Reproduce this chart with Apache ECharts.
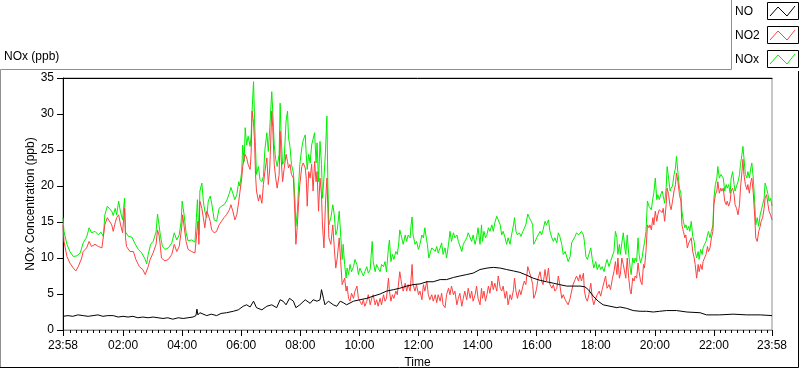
<!DOCTYPE html>
<html><head><meta charset="utf-8">
<script src="https://cdn.jsdelivr.net/npm/echarts@6/dist/echarts.min.js"></script>
<style>html,body{margin:0;padding:0;background:#fff}#c{width:800px;height:369px}</style>
</head><body><div id="c"></div>
<script>
// time values are minutes after the first sample (23:58)
const seriesNames = ['NO', 'NO2', 'NOx'];
const xTickMinutes = [0,122,242,362,482,602,722,842,962,1082,1202,1322,1440];
const xTickLabels = ['23:58','02:00','04:00','06:00','08:00','10:00','12:00','14:00','16:00','18:00','20:00','22:00','23:58'];
const yTicks = [0,5,10,15,20,25,30,35];

const noData = [[0,1.9],[10,2.0],[20,1.9],[30,2.1],[41,2.0],[51,1.9],[61,2.0],[71,2.1],[81,1.9],[91,2.0],[102,2.0],[112,1.8],[122,1.9],[132,1.8],[142,1.9],[152,1.7],[162,1.8],[173,1.7],[183,1.8],[193,1.7],[203,1.6],[213,1.7],[223,1.5],[234,1.7],[244,1.6],[254,1.7],[264,1.8],[270,2.0],[272,2.9],[274,2.1],[278,2.4],[292,2.0],[301,2.2],[312,2.0],[321,2.3],[332,2.4],[346,2.6],[356,2.8],[366,3.3],[373,3.5],[380,3.2],[387,4.0],[393,3.1],[404,2.8],[414,3.3],[424,3.5],[434,3.1],[441,4.2],[447,4.0],[453,3.5],[460,4.4],[468,4.0],[473,3.1],[481,3.5],[492,4.2],[502,3.7],[508,4.2],[516,4.0],[522,4.2],[525,5.6],[529,4.4],[532,3.5],[539,4.0],[549,3.5],[556,3.3],[563,4.0],[569,3.8],[576,3.5],[590,4.0],[603,4.2],[617,4.4],[630,4.7],[644,5.0],[657,5.4],[671,5.6],[684,5.8],[698,6.1],[711,6.3],[725,6.4],[739,6.7],[752,6.7],[766,7.0],[779,7.0],[793,7.3],[806,7.5],[820,7.7],[833,7.9],[847,8.4],[861,8.6],[874,8.7],[888,8.6],[901,8.4],[915,8.2],[928,8.0],[942,7.6],[955,7.2],[969,6.9],[982,6.7],[996,6.5],[1009,6.3],[1023,6.1],[1036,6.1],[1050,6.1],[1060,6.0],[1067,5.6],[1077,4.7],[1087,4.0],[1097,3.5],[1111,3.3],[1125,3.1],[1131,3.2],[1145,3.0],[1158,2.7],[1172,2.6],[1185,2.6],[1199,2.5],[1212,2.6],[1226,2.7],[1246,2.7],[1267,2.5],[1294,2.4],[1307,2.1],[1334,2.1],[1361,2.2],[1389,2.1],[1416,2.1],[1440,2.0]];

const no2Data = [[0,14.6],[2,12.3],[8,10.2],[14,9.3],[21,8.6],[26,8.2],[31,8.8],[38,10.0],[41,10.9],[48,11.4],[53,12.3],[58,11.6],[65,11.9],[72,11.6],[79,11.4],[82,11.6],[85,14.6],[90,15.6],[94,15.8],[99,14.6],[102,13.7],[106,14.9],[109,15.6],[113,16.0],[117,14.6],[121,13.5],[125,16.9],[127,12.8],[129,11.6],[136,10.9],[143,10.9],[148,9.8],[155,8.8],[162,8.4],[167,7.7],[170,7.5],[173,8.8],[177,9.8],[183,10.7],[189,11.9],[192,13.9],[195,13.2],[197,12.1],[200,10.0],[207,9.6],[214,9.8],[221,10.5],[226,11.9],[231,10.9],[236,11.6],[241,14.2],[243,16.0],[246,14.4],[250,12.3],[254,11.2],[261,10.9],[268,10.7],[272,13.7],[274,15.1],[276,11.9],
[278,17.9],[282,16.9],[285,15.6],[288,14.2],[292,16.5],[295,16.0],[299,15.1],[302,13.9],[307,13.5],[312,13.7],[317,14.6],[322,15.1],[327,15.6],[332,16.0],[338,16.7],[341,17.4],[345,16.5],[349,15.3],[353,16.0],[357,17.9],[359,19.0],[363,21.1],[365,22.7],[368,23.9],[370,24.4],[373,23.9],[376,23.0],[380,22.3],[382,24.4],[384,30.4],[387,28.8],[389,26.2],[391,21.6],[393,19.3],[397,17.9],[400,18.8],[404,17.6],[407,20.2],[410,22.0],[414,23.9],[417,20.2],[420,22.5],[424,30.4],[426,28.1],[429,23.0],[432,21.1],[435,19.7],[439,21.6],[441,27.6],[443,23.9],[446,20.6],[449,22.3],[453,24.4],[456,23.4],[458,22.5],[461,23.0],[464,21.6],[468,21.1],[471,16.0],[473,11.9],[476,14.6],[479,18.3],[481,20.2],[485,22.7],[488,23.2],[492,22.5],[494,21.1],[496,17.2],[499,22.0],[502,21.1],[505,23.0],[508,19.3],[511,23.4],[514,20.6],[516,22.0],[519,16.5],[522,21.1],[525,18.8],[527,14.6],[530,11.4],[533,17.4],[536,21.1],[538,16.9],[540,12.8],[544,11.9],[548,14.6],[551,11.4],[554,8.6],[557,10.0],[561,12.8],[564,9.5],[567,6.3],
[569,6.3],[572,7.2],[575,5.4],[577,6.1],[580,4.4],[583,4.0],[586,5.1],[590,4.4],[593,5.4],[597,6.1],[600,4.4],[603,4.0],[607,3.5],[610,4.2],[613,3.3],[617,4.0],[620,4.9],[624,3.5],[627,4.4],[630,4.9],[634,3.5],[637,4.2],[640,3.3],[644,4.4],[647,3.5],[651,4.9],[654,4.0],[657,4.4],[661,7.2],[663,5.4],[666,4.0],[669,4.9],[672,4.4],[676,5.4],[679,4.9],[682,6.8],[684,8.1],[688,6.3],[691,5.4],[695,6.5],[698,5.4],[701,6.3],[705,5.4],[707,7.2],[709,9.1],[711,6.3],[715,5.4],[718,6.3],[722,4.9],[725,5.4],[729,4.2],[732,6.3],[735,5.4],[739,6.8],[742,4.9],[745,4.2],[749,4.9],[752,4.0],[756,4.9],[759,3.8],[762,4.9],[766,4.0],[769,5.1],[772,3.5],[776,3.1],[779,4.9],[783,5.8],[786,4.9],[789,6.1],[793,4.9],[796,5.4],[800,3.5],[803,4.4],[806,5.1],[810,3.3],[813,4.4],[816,5.4],[820,4.2],[823,5.8],[827,4.4],[830,5.4],[833,4.0],[837,4.9],[840,6.1],[843,4.4],
[847,3.5],[850,5.8],[852,4.4],[855,5.4],[858,4.0],[861,4.9],[864,6.1],[867,5.1],[871,6.8],[874,5.6],[877,6.5],[881,5.4],[884,7.5],[888,5.8],[891,5.4],[894,6.1],[898,4.4],[901,5.4],[904,3.5],[908,4.9],[911,4.2],[915,5.6],[917,7.2],[920,5.4],[923,4.4],[927,5.6],[930,4.9],[934,6.1],[937,6.8],[940,6.3],[944,8.8],[947,8.1],[951,7.2],[954,6.3],[956,4.4],[959,4.9],[962,5.8],[965,7.2],[969,8.1],[972,6.8],[975,6.3],[979,8.4],[982,6.8],[986,8.6],[989,6.3],[993,5.8],[996,6.3],[999,5.4],[1003,5.8],[1006,7.5],[1009,6.3],[1013,4.4],[1016,4.9],[1020,4.2],[1023,4.0],[1026,3.5],[1030,4.4],[1033,5.4],[1036,6.3],[1040,7.0],[1043,7.5],[1047,6.8],[1050,7.7],[1053,6.8],[1057,7.9],[1059,5.4],[1062,4.4],[1065,4.0],[1068,4.9],[1072,6.5],[1075,4.4],[1078,3.5],[1082,4.4],[1085,4.9],[1089,5.4],[1092,4.7],[1095,5.6],[1099,5.4],[1102,7.5],[1105,5.8],[1109,6.3],[1112,5.6],[1116,7.2],[1119,8.1],[1122,9.5],[1125,7.7],[1127,10.0],[1130,7.2],
[1132,7.7],[1135,10.0],[1138,9.1],[1141,9.1],[1143,7.2],[1146,10.0],[1149,7.2],[1152,5.4],[1154,5.0],[1157,7.2],[1160,6.8],[1162,7.5],[1165,7.2],[1168,9.3],[1170,8.1],[1173,6.8],[1176,6.3],[1179,9.1],[1181,8.6],[1184,10.9],[1187,14.6],[1190,14.2],[1192,14.6],[1195,13.9],[1198,15.6],[1200,14.6],[1203,16.5],[1206,15.1],[1208,16.0],[1211,16.7],[1214,16.5],[1217,16.3],[1219,16.9],[1222,15.1],[1225,17.4],[1227,19.7],[1230,18.8],[1233,17.2],[1235,16.7],[1238,17.9],[1241,19.3],[1244,20.2],[1246,21.8],[1249,20.6],[1252,18.8],[1255,17.9],[1257,14.6],[1260,13.7],[1263,12.8],[1265,13.2],[1268,11.4],[1271,12.1],[1273,11.9],[1276,12.8],[1279,10.9],[1282,10.0],[1284,9.1],[1287,7.2],[1290,9.1],[1292,8.1],[1295,9.1],[1298,8.4],[1300,9.5],[1303,10.0],[1306,10.5],[1309,11.6],[1311,10.9],[1314,11.4],[1317,12.8],[1320,13.7],[1322,17.4],[1325,18.8],[1328,19.3],[1330,20.6],[1333,19.0],[1336,19.7],[1338,19.3],[1341,19.7],[1344,17.9],[1347,17.4],[1349,17.9],[1352,17.2],[1355,17.9],[1357,19.3],[1360,19.7],[1363,18.8],[1365,17.4],[1368,16.9],[1371,16.0],[1374,17.4],[1376,19.7],[1379,22.0],[1381,23.7],[1383,21.6],[1386,20.2],[1389,19.5],[1391,20.2],[1394,19.0],[1397,20.6],[1399,21.1],[1402,19.0],[1405,15.6],[1407,12.8],[1410,12.3],[1413,13.7],[1416,14.4],[1418,15.1],[1421,15.6],[1424,16.9],[1426,18.3],[1429,18.8],[1432,17.4],[1434,16.5],[1437,16.0],[1440,15.3]];

const noxData = [[0,15.6],[2,13.7],[8,11.9],[14,10.9],[21,10.2],[28,10.3],[35,10.7],[41,12.1],[48,12.9],[53,14.2],[58,13.5],[65,13.7],[72,13.2],[77,13.6],[82,13.0],[85,16.0],[90,17.2],[94,17.4],[99,16.5],[102,15.9],[106,16.9],[109,16.0],[113,17.9],[117,16.3],[121,15.3],[125,18.3],[127,13.6],[133,13.0],[140,12.9],[146,12.0],[153,11.2],[160,10.7],[167,9.8],[170,9.2],[173,10.5],[178,11.9],[183,12.3],[189,13.6],[192,16.1],[195,14.6],[198,13.0],[202,11.6],[207,11.2],[214,11.4],[221,12.1],[226,13.5],[231,12.5],[236,13.2],[240,15.1],[242,17.9],[246,16.0],[250,13.5],[254,12.4],[261,12.5],[268,12.2],[271,15.6],[273,18.1],[276,13.2],
[278,19.3],[282,20.4],[285,17.9],[288,16.5],[292,15.6],[295,17.9],[299,18.6],[302,17.6],[307,15.3],[312,15.1],[317,16.9],[322,17.2],[327,17.4],[332,17.9],[338,19.0],[341,19.8],[345,19.0],[349,18.1],[353,18.8],[357,20.6],[359,20.0],[363,22.0],[365,25.7],[368,23.4],[370,28.1],[373,25.7],[376,26.9],[380,25.5],[382,26.9],[384,30.4],[387,34.5],[389,29.4],[391,25.3],[393,21.6],[397,22.7],[400,20.9],[404,20.6],[407,21.3],[410,25.0],[414,27.4],[417,24.8],[420,28.1],[424,33.1],[426,30.4],[429,25.7],[432,23.7],[435,22.7],[439,24.4],[441,31.5],[443,27.1],[446,23.0],[449,23.4],[453,29.0],[456,30.4],[458,26.7],[461,25.5],[464,23.0],[468,21.8],[471,18.3],[473,14.4],[476,16.5],[479,20.6],[481,23.0],[485,25.3],[488,26.4],[492,27.1],[494,24.4],[496,22.3],[499,24.4],[502,23.2],[505,25.7],[508,25.5],[511,27.4],[514,23.2],[516,26.0],[519,20.6],[522,26.2],[525,23.0],[527,18.3],[530,21.1],[533,24.6],[536,29.7],[538,20.2],[540,14.6],[544,15.6],[548,17.4],[551,16.0],[554,13.2],[557,13.9],[561,16.5],[564,13.2],[567,9.8],
[569,11.9],[572,9.1],[575,7.2],[577,8.6],[580,7.7],[583,9.1],[586,8.1],[590,8.8],[593,9.8],[597,9.1],[600,7.7],[603,8.6],[607,8.4],[610,7.5],[613,8.1],[617,8.8],[620,7.9],[624,8.4],[626,10.5],[628,12.3],[630,9.5],[634,8.1],[637,9.1],[640,8.6],[644,8.1],[647,9.1],[651,8.8],[654,9.5],[657,8.1],[661,11.4],[663,12.5],[666,9.5],[669,10.5],[672,9.8],[676,10.9],[679,10.5],[682,12.1],[684,13.9],[688,12.8],[691,11.9],[695,13.2],[698,12.3],[701,13.2],[705,12.8],[707,14.6],[709,15.7],[711,13.2],[715,11.9],[718,12.3],[722,11.2],[725,11.9],[729,13.2],[732,12.8],[735,14.2],[737,13.2],[740,11.9],[743,10.0],[745,10.5],[749,11.4],[752,11.2],[756,10.9],[759,11.6],[762,10.7],[766,11.4],[769,12.1],[772,10.5],[776,11.4],[779,10.0],[783,11.9],[786,13.7],[789,12.3],[793,13.5],[796,12.8],[800,13.2],[803,12.3],[806,12.5],[810,10.9],[813,11.9],[816,12.3],[820,12.8],[823,13.5],[827,13.7],[830,12.3],[833,13.2],[837,11.9],[840,12.8],[843,14.2],
[847,11.9],[850,14.6],[852,12.3],[855,13.7],[858,12.8],[861,13.2],[864,14.2],[867,13.7],[871,14.6],[874,13.7],[877,14.9],[881,15.8],[884,15.3],[888,14.6],[891,13.2],[894,13.7],[898,12.8],[901,11.9],[904,12.8],[908,11.9],[911,13.2],[915,14.6],[917,15.6],[920,13.7],[923,13.2],[927,13.5],[930,13.0],[934,13.7],[937,13.9],[940,14.6],[944,16.1],[947,15.6],[951,15.1],[954,14.6],[956,11.9],[959,12.3],[962,12.8],[965,13.2],[969,13.7],[972,13.2],[975,13.9],[979,15.1],[982,14.6],[986,15.3],[989,13.7],[993,12.8],[996,12.3],[999,12.8],[1003,12.1],[1006,13.5],[1009,13.0],[1013,11.9],[1016,10.5],[1020,10.9],[1023,10.7],[1026,9.5],[1030,10.2],[1033,12.1],[1036,12.5],[1040,13.0],[1043,13.5],[1047,13.2],[1050,13.2],[1053,13.7],[1057,13.2],[1059,12.3],[1062,10.2],[1065,9.8],[1068,10.0],[1072,11.4],[1075,9.8],[1078,8.6],[1082,9.5],[1085,8.4],[1089,9.1],[1092,8.4],[1095,8.8],[1099,8.1],[1102,9.1],[1105,9.8],[1109,8.8],[1112,9.5],[1116,9.3],[1119,10.9],[1122,13.7],[1125,12.8],[1127,10.5],[1130,11.9],
[1132,10.5],[1135,12.1],[1138,13.5],[1141,11.4],[1143,10.5],[1146,13.2],[1149,10.5],[1152,8.6],[1154,7.7],[1157,10.0],[1160,9.3],[1162,10.0],[1165,9.5],[1168,12.8],[1170,10.5],[1173,9.3],[1176,10.0],[1179,11.4],[1181,12.1],[1184,13.7],[1187,17.9],[1190,17.2],[1192,17.4],[1195,16.7],[1198,18.3],[1200,19.0],[1203,21.1],[1206,18.1],[1208,18.8],[1211,18.1],[1214,18.8],[1217,19.3],[1219,18.6],[1222,17.6],[1225,19.7],[1227,22.7],[1230,21.1],[1233,19.3],[1235,19.7],[1238,20.0],[1241,21.6],[1244,22.5],[1246,24.1],[1249,21.8],[1252,19.7],[1255,19.0],[1257,16.5],[1260,15.1],[1263,14.2],[1265,14.6],[1268,13.9],[1271,14.4],[1273,13.7],[1276,15.1],[1279,13.0],[1282,12.3],[1284,10.9],[1287,10.0],[1290,10.9],[1292,9.8],[1295,11.2],[1298,10.5],[1300,11.4],[1303,11.9],[1306,12.3],[1309,13.2],[1311,13.7],[1314,12.8],[1317,13.7],[1320,14.6],[1322,18.3],[1325,20.2],[1328,21.1],[1330,22.7],[1333,21.1],[1336,21.6],[1338,21.8],[1341,21.1],[1344,19.3],[1347,20.2],[1349,19.7],[1352,20.2],[1355,19.0],[1357,21.1],[1360,22.0],[1363,20.2],[1365,19.3],[1368,20.0],[1371,20.6],[1374,21.6],[1376,23.0],[1379,24.4],[1381,25.5],[1383,23.9],[1386,21.6],[1389,21.1],[1391,22.0],[1394,21.1],[1397,22.5],[1399,23.2],[1402,21.1],[1405,17.6],[1407,14.6],[1410,15.6],[1413,14.4],[1416,16.0],[1418,16.2],[1421,17.4],[1424,18.3],[1426,20.4],[1429,19.7],[1432,18.8],[1434,17.9],[1437,18.3],[1440,17.2]];

const seriesColors = ['#000000', '#ff4040', '#00f000'];
const FONT = '"Liberation Sans", Arial, sans-serif';

const minorTicks = [];
for (let k = 1; k < 120; k++) { if (k % 10 !== 0) minorTicks.push(2 + 12 * k); }

function fmtX(v) {
  const i = xTickMinutes.indexOf(v);
  if (i >= 0) return xTickLabels[i];
  const m = (1438 + v) % 1440;
  return String(Math.floor(m / 60)).padStart(2, '0') + ':' + String(m % 60).padStart(2, '0');
}

// legend drawn as LabVIEW-style plot legend
const legendGraphics = [];
seriesNames.forEach((name, i) => {
  const y0 = 2 + i * 24;
  legendGraphics.push({type: 'text', left: 735, top: y0 + 4, z: 10,
    style: {text: name, font: '12px ' + FONT, fill: '#000'}});
  legendGraphics.push({type: 'rect', z: 10,
    shape: {x: 767.5, y: y0 + 0.5, width: 31, height: 17},
    style: {fill: '#fff', stroke: '#000', lineWidth: 1}});
  legendGraphics.push({type: 'polyline', z: 11,
    shape: {points: [[770, y0 + 14], [778, y0 + 5], [787, y0 + 14], [795, y0 + 4]]},
    style: {stroke: seriesColors[i], lineWidth: 1, fill: null}});
});

const chart = echarts.init(document.getElementById('c'), null, {renderer: 'canvas'});
chart.setOption({
  animation: false,
  backgroundColor: '#fff',
  title: {text: 'NOx (ppb)', left: 4, top: 51, padding: 0,
    textStyle: {fontSize: 12, fontWeight: 'normal', color: '#000', fontFamily: FONT}},
  grid: {left: 63, right: 28, top: 78, bottom: 39, show: true, borderColor: '#909090', borderWidth: 1,
    backgroundColor: '#fff', containLabel: false, outerBoundsMode: 'none'},
  xAxis: [
    {type: 'value', min: 0, max: 1440, position: 'bottom',
      name: 'Time', nameLocation: 'middle', nameGap: 27, nameMoveOverlap: false,
      nameTextStyle: {fontSize: 12, color: '#000', fontFamily: FONT},
      axisLine: {show: true, lineStyle: {color: '#909090', width: 1}},
      axisTick: {show: true, inside: false, length: 6, customValues: xTickMinutes, lineStyle: {color: '#000'}},
      axisLabel: {show: true, customValues: xTickMinutes, formatter: fmtX, margin: 10,
        fontSize: 12, color: '#000', fontFamily: FONT},
      splitLine: {show: false}},
    {type: 'value', min: 0, max: 1440, position: 'bottom',
      axisLine: {show: false},
      axisTick: {show: true, inside: false, length: 3, customValues: minorTicks, lineStyle: {color: '#000'}},
      axisLabel: {show: false}, splitLine: {show: false}},
    {type: 'value', min: 0, max: 1440, position: 'top',
      axisLine: {show: true, lineStyle: {color: '#000', width: 1}},
      axisTick: {show: false}, axisLabel: {show: false}, splitLine: {show: false}}
  ],
  yAxis: {type: 'value', min: 0, max: 35, interval: 5,
    name: 'NOx Concentration (ppb)', nameLocation: 'middle', nameRotate: 90, nameGap: 26, nameMoveOverlap: false,
    nameTextStyle: {fontSize: 12, color: '#000', fontFamily: FONT},
    axisLine: {show: true, lineStyle: {color: '#000', width: 1}},
    axisTick: {show: true, inside: false, length: 6, lineStyle: {color: '#000'}},
    axisLabel: {margin: 9, fontSize: 12, color: '#000', fontFamily: FONT},
    splitLine: {show: false}},
  series: [
    {name: 'NO', type: 'line', data: noData, z: 5, showSymbol: false, symbol: 'none',
      lineStyle: {color: seriesColors[0], width: 1}, itemStyle: {color: seriesColors[0]}},
    {name: 'NO2', type: 'line', data: no2Data, z: 4, showSymbol: false, symbol: 'none',
      lineStyle: {color: seriesColors[1], width: 1}, itemStyle: {color: seriesColors[1]}},
    {name: 'NOx', type: 'line', data: noxData, z: 3, showSymbol: false, symbol: 'none',
      lineStyle: {color: seriesColors[2], width: 1}, itemStyle: {color: seriesColors[2]}}
  ],
  graphic: [
    {type: 'polyline', z: 9, shape: {points: [[0.5, 367], [0.5, 69.5], [731.5, 69.5], [731.5, 0]]},
      style: {stroke: '#909090', lineWidth: 1, fill: null}},
    {type: 'polyline', z: 9, shape: {points: [[798.5, 71], [798.5, 367.5], [0, 367.5]]},
      style: {stroke: '#000', lineWidth: 1, fill: null}}
  ].concat(legendGraphics)
});
</script>
</body></html>
